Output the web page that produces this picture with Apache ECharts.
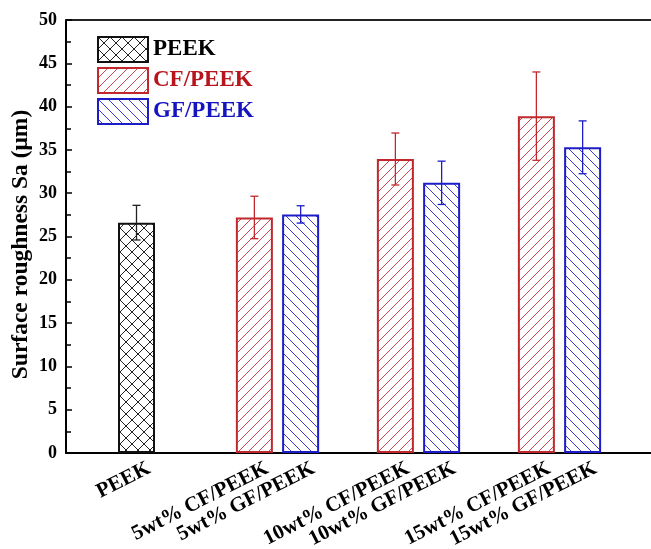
<!DOCTYPE html>
<html>
<head>
<meta charset="utf-8">
<script src="https://cdn.jsdelivr.net/npm/echarts@6/dist/echarts.min.js"></script>
<style>html,body{margin:0;padding:0;background:#fff}#c{width:651px;height:549px}</style>
</head>
<body>
<div id="c"></div>
<script>
// ---- data ----
const categories = ['PEEK', '5wt%', '10wt%', '15wt%'];
const peekLabels = ['PEEK', '', '', ''];
const cfLabels = ['', '5wt% CF/PEEK', '10wt% CF/PEEK', '15wt% CF/PEEK'];
const gfLabels = ['', '5wt% GF/PEEK', '10wt% GF/PEEK', '15wt% GF/PEEK'];
const peekValues = [26.6, null, null, null];
const peekErrors = [2.0, null, null, null];
const cfValues = [null, 27.2, 33.95, 38.9];
const cfErrors = [null, 2.45, 3.0, 5.1];
const gfValues = [null, 27.55, 31.2, 35.3];
const gfErrors = [null, 1.0, 2.5, 3.05];
const seriesNames = ['PEEK', 'CF/PEEK', 'GF/PEEK'];
const yMin = 0, yMax = 50, yInterval = 5;

// ---- style ----
const BLACK = '#111111', RED = '#c0282d', BLUE = '#1c1cc8';
const FONT = '"Liberation Serif", "Times New Roman", serif';
const BAR_W = 37, GAP_PX = 9.25;
const OFFSET = (BAR_W + GAP_PX) / 2;

function hatch(color, size, dirs, lw) {
  const c = document.createElement('canvas');
  c.width = size; c.height = size;
  const g = c.getContext('2d');
  g.strokeStyle = color; g.lineWidth = lw;
  dirs.forEach(d => {
    [-size, 0, size].forEach(k => {
      g.beginPath();
      if (d === '/') { g.moveTo(k, size); g.lineTo(k + size, 0); }
      else { g.moveTo(k, 0); g.lineTo(k + size, size); }
      g.stroke();
    });
  });
  return { image: c, repeat: 'repeat' };
}

const toBar = arr => arr.map(v => v == null ? '-' : v);
const toErr = (vals, errs) => vals.map((v, i) => v == null ? null : [i, v, errs[i]]).filter(Boolean);

function errRender(offset, color) {
  return function (params, api) {
    const cat = api.value(0), v = api.value(1), e = api.value(2);
    const c = api.coord([cat, v]);
    const x = c[0] + offset;
    const yt = api.coord([cat, v + e])[1];
    const yb = api.coord([cat, v - e])[1];
    const w = 4;
    const st = { stroke: color, lineWidth: 1.3 };
    return {
      type: 'group',
      children: [
        { type: 'line', shape: { x1: x, y1: yt, x2: x, y2: yb }, style: st },
        { type: 'line', shape: { x1: x - w, y1: yt, x2: x + w, y2: yt }, style: st },
        { type: 'line', shape: { x1: x - w, y1: yb, x2: x + w, y2: yb }, style: st }
      ]
    };
  };
}

function barLabel(labels) {
  return {
    show: true,
    position: 'bottom',
    distance: 5,
    rotate: 27,
    align: 'right',
    verticalAlign: 'middle',
    offset: [7, 14],
    color: '#000',
    fontFamily: FONT,
    fontWeight: 'bold',
    fontSize: 21,
    formatter: p => labels[p.dataIndex]
  };
}

const chart = echarts.init(document.getElementById('c'), null, { renderer: 'canvas' });
const hiddenAxis = { axisLine: { show: false }, axisTick: { show: false }, axisLabel: { show: false }, splitLine: { show: false } };

chart.setOption({
  animation: false,
  backgroundColor: '#fff',
  grid: [
    { left: 66, right: 21, top: 20, bottom: 96, containLabel: false, outerBoundsMode: 'none' },
    { left: 66, right: 0, top: 20, bottom: 96, containLabel: false, outerBoundsMode: 'none' }
  ],
  legend: {
    orient: 'vertical',
    left: 92, top: 31,
    itemWidth: 50, itemHeight: 25, itemGap: 4,
    icon: 'rect',
    textStyle: { fontFamily: FONT, fontWeight: 'bold', fontSize: 23 },
    data: [
      { name: seriesNames[0], textStyle: { color: '#000' } },
      { name: seriesNames[1], textStyle: { color: '#b8141c' } },
      { name: seriesNames[2], textStyle: { color: '#1414c0' } }
    ]
  },
  xAxis: [
    Object.assign({ type: 'category', gridIndex: 0, data: categories }, hiddenAxis),
    Object.assign({ type: 'category', gridIndex: 0, data: categories }, hiddenAxis),
    { type: 'value', gridIndex: 1, min: 0, max: 1, position: 'bottom',
      axisLine: { show: true, lineStyle: { color: '#000', width: 2 } },
      axisTick: { show: false }, axisLabel: { show: false }, splitLine: { show: false } },
    { type: 'value', gridIndex: 1, min: 0, max: 1, position: 'top',
      axisLine: { show: true, lineStyle: { color: '#222', width: 2 } },
      axisTick: { show: false }, axisLabel: { show: false }, splitLine: { show: false } }
  ],
  yAxis: [
    {
      type: 'value', gridIndex: 0, min: yMin, max: yMax, interval: yInterval,
      name: 'Surface roughness Sa (μm)',
      nameLocation: 'middle', nameGap: 33, nameMoveOverlap: false,
      nameTextStyle: { fontFamily: FONT, fontWeight: 'bold', fontSize: 23.5, color: '#000', padding: [0, 16, 0, 0] },
      axisLine: { show: true, lineStyle: { color: '#000', width: 2 } },
      axisTick: { show: true, inside: true, length: 6, lineStyle: { color: '#000', width: 1.5 } },
      minorTick: { show: true, splitNumber: 2, length: 5, lineStyle: { color: '#000', width: 1.5 } },
      axisLabel: { fontFamily: FONT, fontWeight: 'bold', fontSize: 18, color: '#000', margin: 9 },
      splitLine: { show: false }
    },
    Object.assign({ type: 'value', gridIndex: 1, min: 0, max: 1 }, hiddenAxis)
  ],
  series: [
    {
      name: seriesNames[0], type: 'bar', xAxisIndex: 1, yAxisIndex: 0,
      barWidth: BAR_W,
      data: toBar(peekValues),
      itemStyle: { color: hatch('#222', 12, ['/', '\\'], 1), borderColor: BLACK, borderWidth: 2 },
      label: barLabel(peekLabels)
    },
    {
      name: seriesNames[1], type: 'bar', xAxisIndex: 0, yAxisIndex: 0,
      barWidth: BAR_W, barGap: (GAP_PX / BAR_W * 100) + '%',
      data: toBar(cfValues),
      itemStyle: { color: hatch('#cc4a4f', 10, ['/'], 1), borderColor: RED, borderWidth: 2 },
      label: barLabel(cfLabels)
    },
    {
      name: seriesNames[2], type: 'bar', xAxisIndex: 0, yAxisIndex: 0,
      barWidth: BAR_W,
      data: toBar(gfValues),
      itemStyle: { color: hatch('#3a3ad0', 10, ['\\'], 1), borderColor: BLUE, borderWidth: 2 },
      label: barLabel(gfLabels)
    },
    { name: 'errPEEK', type: 'custom', xAxisIndex: 1, yAxisIndex: 0, z: 5,
      renderItem: errRender(0, '#222'), data: toErr(peekValues, peekErrors) },
    { name: 'errCF', type: 'custom', xAxisIndex: 0, yAxisIndex: 0, z: 5,
      renderItem: errRender(-OFFSET, RED), data: toErr(cfValues, cfErrors) },
    { name: 'errGF', type: 'custom', xAxisIndex: 0, yAxisIndex: 0, z: 5,
      renderItem: errRender(OFFSET, BLUE), data: toErr(gfValues, gfErrors) }
  ]
});
</script>
</body>
</html>
